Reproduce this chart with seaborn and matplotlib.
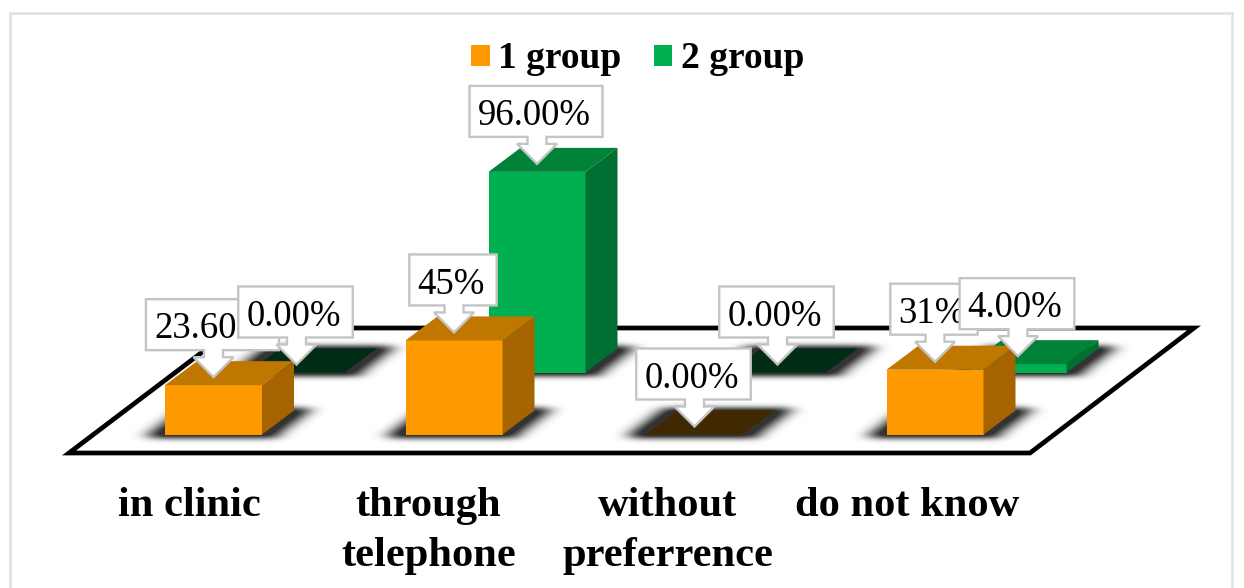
import matplotlib
matplotlib.use("Agg")
import matplotlib.pyplot as plt
from matplotlib.patches import Polygon, Patch, Rectangle
from matplotlib.transforms import ScaledTranslation
import numpy as np
import seaborn as sns

categories = ["in clinic", "through\ntelephone", "without\npreferrence", "do not know"]
series_names = ["1 group", "2 group"]
group1_values = [23.6, 45, 0, 31]
group2_values = [0, 96, 0, 4]
group1_labels = ["23.60%", "45%", "0.00%", "31%"]
group2_labels = ["0.00%", "96.00%", "0.00%", "4.00%"]

W, H = 1244, 588
DEPTH_X, DEPTH_Y = 32, 24       # px depth of the boxes
PX_PER_CAT, PX_PER_PCT = 240.5, 2.09
SERIF = "Liberation Serif"

FRONT = {"front": "#FF9900", "top": "#C07700", "side": "#A66400", "zero": "#402800"}
BACK = {"front": "#00B050", "top": "#008239", "side": "#006F32", "zero": "#012D16"}

sns.set_theme(style="white")
plt.rcParams["font.family"] = [SERIF, "DejaVu Sans"]

fig = plt.figure(figsize=(W / 100, H / 100), dpi=100, facecolor="white")


def px_axes(left, base_top, zorder):
    """Axes whose x runs over categories and y over percent (0 at base_top px)."""
    width = 4 * PX_PER_CAT
    height = 100 * PX_PER_PCT
    ax = fig.add_axes([left / W, (H - base_top) / H, width / W, height / H], zorder=zorder)
    ax.patch.set_visible(False)
    return ax


# page layer: outer frame and chart floor
bg = fig.add_axes([0, 0, 1, 1], zorder=0)
bg.set_xlim(0, W)
bg.set_ylim(H, 0)
bg.axis("off")
bg.add_patch(Rectangle((9.5, 12.5), 1222, 600, fc="white", ec="#E2E2E2", lw=2))
bg.add_patch(Polygon([(69, 453), (1030, 453), (1194, 328), (234, 328)], closed=True,
                     fc="white", ec="black", lw=3.4, joinstyle="miter"))

ax_back = px_axes(93.25 + 83, 434.5 - 62, 1)
ax_front = px_axes(93.25, 434.5, 2)
overlay = fig.add_axes([0, 0, 1, 1], zorder=5)
overlay.set_xlim(0, W)
overlay.set_ylim(0, H)
overlay.axis("off")


def draw_series(ax, values, colours):
    sns.barplot(x=categories, y=values, color=colours["front"], saturation=1,
                width=97 / PX_PER_CAT, linewidth=0, ax=ax)
    ax.set_xlim(-0.5, 3.5)
    ax.set_ylim(0, 100)
    sns.despine(ax=ax, left=True, bottom=True)
    ax.set_yticks([])
    ax.set_ylabel("")
    dx, dy = DEPTH_X / PX_PER_CAT, DEPTH_Y / PX_PER_PCT
    bars = list(ax.patches)
    for bar, value in zip(bars, values):
        x0, x1 = bar.get_x(), bar.get_x() + bar.get_width()
        h = bar.get_height()
        bar.set_zorder(3)
        bar.set_clip_on(False)
        top_colour = colours["top"] if value > 0 else colours["zero"]
        ax.add_patch(Polygon([(x0, h), (x1, h), (x1 + dx, h + dy), (x0 + dx, h + dy)],
                             closed=True, fc=top_colour, ec="none", zorder=3, clip_on=False))
        if value > 0:
            ax.add_patch(Polygon([(x1, 0), (x1 + dx, dy), (x1 + dx, h + dy), (x1, h)],
                                 closed=True, fc=colours["side"], ec="none", zorder=3, clip_on=False))
    return bars


def blur1d(a, sigma, axis):
    r = int(3 * sigma)
    kernel = np.exp(-0.5 * (np.arange(-r, r + 1) / sigma) ** 2)
    kernel /= kernel.sum()
    return np.apply_along_axis(lambda m: np.convolve(m, kernel, mode="same"), axis, a)


def draw_shadows(pairs):
    """Soft shadow on the floor, derived from each bar's footprint."""
    mask = np.zeros((H, W))
    for ax, bars in pairs:
        for bar in bars:
            left = ax.transData.transform((bar.get_x(), 0))
            right = ax.transData.transform((bar.get_x() + bar.get_width(), 0))
            y_front = int(round(H - left[1]))
            for y in range(y_front - DEPTH_Y - 2, y_front + 4):
                frac = np.clip((y_front - y) / DEPTH_Y, 0, 1)
                a = int(left[0] + frac * DEPTH_X - 16)
                b = int(right[0] + frac * DEPTH_X + 16)
                mask[y, a:b] = 1
    soft = blur1d(blur1d(mask, 8.5, 1), 2.8, 0)
    rgba = np.zeros((H, W, 4))
    rgba[..., 3] = np.clip(soft * 1.0, 0, 0.8)
    bg.imshow(rgba, extent=(0, W, H, 0), aspect="auto", zorder=2, interpolation="bilinear")
    bg.set_xlim(0, W)
    bg.set_ylim(H, 0)


def callout(ax, bars, labels, zorder):
    renderer = fig.canvas.get_renderer()
    for bar, label in zip(bars, labels):
        cx, top = bar.get_x() + bar.get_width() / 2, bar.get_height()
        ax_px = ax.transData.transform((cx, top))
        tip_x, tip_y = ax_px[0], ax_px[1] + 8
        bottom = tip_y + 27
        text = overlay.text(tip_x - 3, bottom + 21, label, ha="center", va="center",
                            fontsize=26.5, color="black", family=SERIF, zorder=zorder + 0.5)
        half = text.get_window_extent(renderer).width / 2 + 10
        lo, hi = tip_x - 1 - half, tip_x - 1 + half
        overlay.add_patch(Polygon(
            [(lo, bottom + 51), (hi, bottom + 51), (hi, bottom),
             (tip_x + 9.5, bottom), (tip_x + 9.5, bottom - 7), (tip_x + 20, bottom - 7),
             (tip_x, tip_y), (tip_x - 20, bottom - 7), (tip_x - 9.5, bottom - 7),
             (tip_x - 9.5, bottom), (lo, bottom)],
            closed=True, fc="white", ec="#C4C4C4", lw=1.7, zorder=zorder, joinstyle="miter"))


back_bars = draw_series(ax_back, group2_values, BACK)
ax_back.set_xticks([])
ax_back.set_xlabel("")
front_bars = draw_series(ax_front, group1_values, FRONT)

ax_front.set_xticks(range(len(categories)))
ax_front.set_xticklabels(categories, fontsize=30.6, fontweight="bold", color="black",
                         family=SERIF, linespacing=1.4)
ax_front.tick_params(axis="x", length=0, pad=38)
for i, tick_label in enumerate(ax_front.get_xticklabels()):
    shift = ScaledTranslation((-24.5 - i) / 100, 0, fig.dpi_scale_trans)
    tick_label.set_transform(tick_label.get_transform() + shift)

fig.canvas.draw()
draw_shadows([(ax_back, back_bars), (ax_front, front_bars)])
callout(ax_front, front_bars, group1_labels, 6)
callout(ax_back, back_bars, group2_labels, 8)

handles = [Patch(fc=FRONT["front"], ec="none"), Patch(fc=BACK["front"], ec="none")]
fig.legend(handles, series_names, loc="center", bbox_to_anchor=(637.5 / W, 1 - 59 / H), ncol=2,
           frameon=False, prop={"family": SERIF, "weight": "bold", "size": 27},
           labelcolor="black",
           handlelength=0.5, handleheight=0.5, handletextpad=0.22, columnspacing=0.86,
           borderpad=0, borderaxespad=0)

fig.savefig("out.png", dpi=100, facecolor="white")
